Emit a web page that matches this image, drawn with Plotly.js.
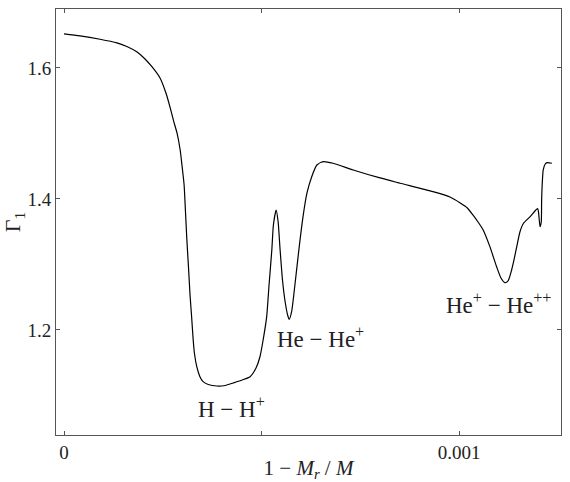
<!DOCTYPE html>
<html><head><meta charset="utf-8">
<script src="https://cdn.plot.ly/plotly-3.0.1.min.js"></script>
<style>html,body{margin:0;padding:0;background:#fff}#c{width:570px;height:482px}</style>
</head><body><div id="c"></div>
<script>
const massDepth = [0,0.0000405,0.0000911,0.000134,0.000159,0.000185,0.000205,0.000223,0.000243,0.000258,0.000268,0.000278,0.000286,0.000294,0.000299,0.000304,0.000306,0.000311,0.000315,0.000319,0.000323,0.000327,0.00033,0.000336,0.000344,0.000352,0.000365,0.000387,0.000408,0.000428,0.000451,0.000471,0.000486,0.000496,0.000504,0.000513,0.000519,0.000526,0.00053,0.000537,0.000542,0.000547,0.000553,0.000559,0.000566,0.00057,0.000576,0.000585,0.000595,0.000605,0.000615,0.000627,0.00064,0.000656,0.000681,0.000732,0.0008,0.000851,0.000934,0.000977,0.001003,0.001021,0.001035,0.001048,0.001061,0.001078,0.001095,0.001106,0.001116,0.001124,0.001133,0.001139,0.001146,0.001154,0.001163,0.00118,0.001192,0.001199,0.001201,0.001205,0.001208,0.001209,0.001211,0.001213,0.001218,0.001223,0.001235];
const gamma1 = [1.652,1.649,1.6438,1.6382,1.6328,1.6244,1.6137,1.6015,1.5847,1.5618,1.541,1.5176,1.5008,1.4748,1.4493,1.4214,1.3985,1.3374,1.2966,1.2534,1.2203,1.1847,1.1649,1.144,1.1287,1.1211,1.1168,1.1145,1.1153,1.1191,1.1237,1.1287,1.142,1.1592,1.1847,1.2203,1.2687,1.3221,1.3603,1.3832,1.3649,1.3221,1.2763,1.2458,1.2229,1.2163,1.2275,1.2718,1.3252,1.373,1.4092,1.434,1.4519,1.457,1.4545,1.4443,1.4321,1.424,1.4111,1.403,1.3939,1.3863,1.3756,1.3649,1.3527,1.3272,1.2966,1.2794,1.2722,1.2748,1.2916,1.3069,1.3272,1.3496,1.3629,1.373,1.3817,1.3855,1.3802,1.3577,1.3649,1.3985,1.429,1.4443,1.4534,1.4554,1.4545];
const xTickVals = [0, 0.0005, 0.001];
const xTickText = ["0", "", "0.001"];
const yTickVals = [1.2, 1.4, 1.6];
const yTickText = ["1.2", "1.4", "1.6"];
const labelText = ["H − H<sup>+</sup>", "He − He<sup>+</sup>", "He<sup>+</sup> − He<sup>++</sup>"];
const labelX = [0.000425, 0.000648, 0.001099];
const labelY = [1.081, 1.189, 1.241];

const font = "Liberation Serif";
const axisCommon = {
  showgrid:false, zeroline:false, showline:true, mirror:'ticks',
  linecolor:'#555', linewidth:1, ticks:'inside', ticklen:4, tickcolor:'#555',
  tickfont:{family:font, size:19, color:'#222'}
};
const data = [{x:massDepth, y:gamma1, type:'scatter', mode:'lines',
  line:{color:'#000', width:1.2, shape:'spline', smoothing:0.6}, hoverinfo:'skip'}];
const layout = {
  width:570, height:482, margin:{l:56, r:9, t:9, b:47},
  font:{family:font, size:19, color:'#222'},
  paper_bgcolor:'#fff', plot_bgcolor:'#fff', showlegend:false,
  xaxis: Object.assign({}, axisCommon, {range:[-0.0000203, 0.001258],
    tickvals:xTickVals, ticktext:xTickText,
    title:{text:'1 − <i>M</i><sub><i>r</i></sub> / <i>M</i>', font:{family:font, size:21, color:'#222'}, standoff:4}}),
  yaxis: Object.assign({}, axisCommon, {range:[1.0397, 1.690],
    tickvals:yTickVals, ticktext:yTickText,
    title:{text:'Γ<sub>1</sub>', font:{family:font, size:22, color:'#222'}, standoff:8}}),
  annotations: labelText.map((t,i)=>({x:labelX[i], y:labelY[i], xref:'x', yref:'y', text:t,
    showarrow:false, xanchor:'center', yanchor:'middle', font:{family:font, size:23, color:'#222'}}))
};
Plotly.newPlot('c', data, layout, {staticPlot:true});
</script></body></html>
